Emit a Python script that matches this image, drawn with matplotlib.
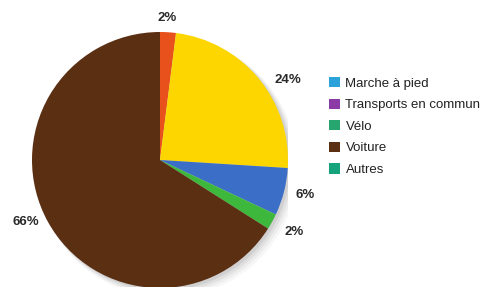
import matplotlib
matplotlib.use("Agg")
import matplotlib.pyplot as plt
from matplotlib.patches import Patch, Circle

slice_values = [2, 24, 6, 2, 66]
slice_colors = ["#e8501c", "#fdd600", "#3b6ec6", "#3db83c", "#5b2f12"]

legend_labels = ["Marche à pied", "Transports en commun", "Vélo", "Voiture", "Autres"]
legend_colors = ["#2ba2da", "#8b3aa6", "#27a56e", "#5b2f12", "#16a27a"]

# small nudges of the percentage labels (axes units)
label_nudges = [(-0.014, -0.049), (0.106, -0.116), (0.009, 0.014), (0.034, -0.004), (-0.031, 0.074)]

fig = plt.figure(figsize=(4.86, 2.87), dpi=100)
fig.patch.set_facecolor("white")

ax = fig.add_axes([32/486, -1/287, 256/486, 256/287])
ax.axis("off")

# soft shadow
for i, a in enumerate([0.07, 0.05, 0.04, 0.03]):
    ax.add_patch(Circle((0.02 + 0.012*i, -0.02 - 0.012*i), 1.0 + 0.006*i,
                        color="black", alpha=a, lw=0, zorder=0))

wedges, texts, autotexts = ax.pie(
    slice_values, colors=slice_colors, startangle=90, counterclock=False,
    radius=1.0, autopct=lambda p: f"{p:.0f}%", pctdistance=1.16,
    wedgeprops=dict(linewidth=0),
    textprops=dict(fontsize=9.5, fontweight="bold", color="#2a2a2a",
                   family="Liberation Sans"))
for w in wedges:
    w.set_zorder(2)
for t, (dx, dy) in zip(autotexts, label_nudges):
    x, y = t.get_position()
    t.set_position((x + dx, y + dy))
    t.set_clip_on(False)
ax.set_xlim(-1, 1)
ax.set_ylim(-1, 1)
ax.set_aspect("equal")

handles = [Patch(facecolor=c, edgecolor="none") for c in legend_colors]
leg = fig.legend(handles, legend_labels, loc="upper left",
                 bbox_to_anchor=(329/486, 1 - 77/287), frameon=False,
                 prop=dict(family="Liberation Sans", size=9.5),
                 handlelength=0.8, handleheight=0.8, handletextpad=0.45,
                 labelspacing=0.68, borderaxespad=0, borderpad=0)
for t in leg.get_texts():
    t.set_color("#222222")

fig.savefig("out.png", dpi=100)
